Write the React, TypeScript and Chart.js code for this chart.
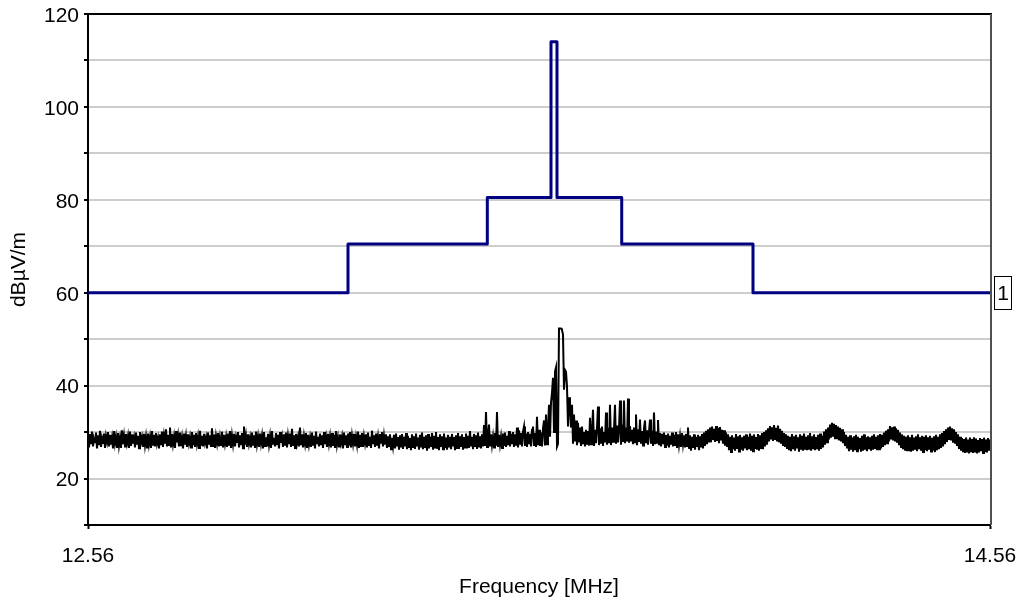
import React, { useEffect, useRef } from "react";
import { Chart, registerables } from "chart.js";

Chart.register(...registerables);

// ---- axes ----
const xMin = 12.56;
const xMax = 14.56;
const xTickValues = [12.56, 14.56];
const yMin = 10;
const yMax = 120;
const yStep = 10;
const yLabelValues = [20, 40, 60, 80, 100, 120];
const xTitle = "Frequency [MHz]";
const yTitle = "dBµV/m";

// ---- limit line (stepped) ----
const limitFreqs = [12.56, 13.1365, 13.4454, 13.5866, 13.5999, 13.7434, 14.0345, 14.56];
const limitLevels = [60, 70.5, 80.5, 114, 80.5, 70.5, 60, 60];
const limitLabel = "1";

// ---- measured trace (uniform sweep from xMin to xMax) ----
const noiseLevels = [
  28.9, 26.7, 29.6, 27.4, 30.1, 26.9, 28.7, 27.8, 29.9, 26.5, 29.3, 27.2, 30.3, 26.8, 28.6, 27.5, 29.7, 26.6, 29.1, 27.9,
  30.0, 26.9, 29.4, 27.3, 28.8, 26.5, 30.2, 27.6, 29.0, 26.8, 29.8, 27.1, 28.7, 26.6, 30.4, 27.4, 29.2, 26.9, 29.6, 27.7,
  29.1, 26.6, 30.1, 27.0, 29.5, 27.5, 28.8, 26.7, 29.9, 27.3, 29.2, 26.5, 30.0, 27.8, 28.9, 26.8, 29.6, 27.2, 29.0, 26.7,
  29.7, 27.4, 28.9, 26.6, 30.2, 27.1, 29.4, 26.9, 29.8, 27.6, 28.7, 26.5, 29.5, 27.2, 30.1, 26.8, 29.2, 27.5, 30.6, 26.9,
  29.4, 27.2, 31.0, 26.7, 29.6, 27.4, 29.0, 26.6, 30.2, 27.8, 29.3, 26.9, 29.9, 27.0, 28.8, 26.5, 29.7, 27.3, 29.1, 26.8,
  29.5, 27.6, 28.9, 26.7, 30.0, 27.2, 29.4, 26.8, 29.8, 27.5, 29.0, 26.6, 30.3, 27.1, 29.2, 26.9, 29.6, 27.7, 28.8, 26.5,
  29.9, 27.3, 29.3, 26.8, 30.8, 27.0, 29.5, 26.6, 29.1, 27.6, 29.8, 26.9, 28.9, 27.2, 30.1, 26.7, 29.4, 27.5, 29.0, 26.8,
  29.7, 27.1, 30.2, 26.6, 29.2, 27.4, 29.6, 26.9, 28.9, 27.7, 30.0, 26.7, 29.3, 27.2, 29.8, 26.5, 31.2, 27.3, 29.1, 26.8,
  29.5, 27.5, 28.8, 26.7, 29.9, 27.1, 29.3, 26.6, 30.1, 27.4, 29.0, 26.8, 29.7, 27.6, 29.2, 26.5, 30.0, 27.0, 28.9, 26.9,
  29.6, 27.3, 29.1, 26.6, 30.2, 27.5, 28.8, 26.9, 29.8, 27.2, 29.4, 26.5, 30.0, 27.7, 29.0, 26.8, 29.5, 27.1, 29.9, 26.7,
  29.2, 27.4, 29.7, 26.8, 30.7, 27.0, 29.3, 26.6, 29.6, 27.6, 28.9, 26.9, 31.0, 27.2, 29.5, 26.7, 29.1, 27.5, 29.8, 26.6,
  29.4, 27.3, 28.8, 26.8, 29.9, 27.1, 29.2, 26.5, 30.1, 27.6, 29.0, 26.9, 29.7, 27.2, 29.3, 26.6, 30.0, 27.4, 28.9, 26.8,
  29.6, 27.5, 29.1, 26.7, 29.8, 27.0, 29.4, 26.6, 30.2, 27.3, 28.8, 26.9, 29.5, 27.7, 29.0, 26.5, 29.9, 27.2, 29.3, 26.8,
  29.7, 27.1, 30.0, 26.7, 29.2, 27.5, 29.6, 26.9, 28.9, 27.3, 30.1, 26.6, 29.4, 27.0, 29.8, 26.8, 29.1, 27.6, 29.5, 26.7,
  29.9, 27.2, 29.0, 26.6, 30.3, 27.4, 29.3, 26.8, 29.7, 27.1, 28.9, 26.5, 29.6, 27.5, 30.0, 26.9, 29.2, 27.3, 29.5, 26.6,
  29.1, 26.8, 29.5, 26.3, 28.8, 27.0, 29.4, 26.5, 29.7, 26.9, 28.9, 26.2, 29.3, 26.7, 29.6, 26.4, 29.0, 26.9, 29.8, 26.3,
  29.2, 26.6, 28.7, 26.1, 29.5, 26.8, 29.1, 26.4, 29.7, 26.9, 28.8, 26.2, 29.4, 26.7, 29.9, 26.3, 29.0, 26.6, 29.3, 26.0,
  29.6, 26.5, 29.0, 26.8, 29.8, 26.2, 29.2, 26.7, 30.0, 26.4, 28.9, 26.1, 29.5, 26.8, 29.1, 26.3, 29.7, 26.6, 28.8, 26.2,
  29.4, 26.7, 29.0, 26.3, 29.6, 26.9, 28.9, 26.1, 29.3, 26.6, 29.8, 26.4, 29.1, 26.8, 29.5, 26.2, 28.9, 26.7, 29.7, 26.5,
  29.2, 26.6, 30.2, 26.9, 29.0, 26.3, 29.6, 26.8, 29.3, 26.4, 29.9, 26.7, 29.1, 26.5, 29.5, 26.9, 31.5, 27.0, 34.3, 26.8,
  29.3, 31.6, 26.9, 29.5, 27.2, 29.0, 26.7, 29.8, 27.1, 34.3, 26.8, 29.4, 27.3, 29.0, 26.6, 29.7, 27.0, 29.9, 26.8, 29.2,
  27.2, 30.2, 26.9, 29.6, 27.4, 30.0, 26.8, 29.5, 27.1, 31.0, 26.7, 30.4, 27.3, 29.8, 26.9, 30.1, 31.2, 27.0, 29.7, 26.8,
  30.0, 27.4, 29.6, 26.9, 30.5, 31.2, 27.0, 29.8, 26.8, 33.3, 27.2, 30.5, 27.0, 29.9, 26.9, 30.8, 32.5, 27.1, 33.8, 27.4,
  30.5, 35.9, 29.0, 36.3, 38.5, 41.7, 30.0, 43.0, 43.9, 26.9, 27.5, 52.3, 52.3, 52.3, 52.0, 51.0, 39.1, 43.4, 43.0, 39.8,
  31.2, 37.5, 35.5, 31.0, 35.9, 27.5, 33.8, 28.0, 32.5, 27.2, 32.0, 27.8, 31.0, 27.0, 31.2, 27.4, 30.0, 26.9, 30.5, 27.3,
  30.2, 27.1, 33.1, 27.4, 30.0, 34.8, 27.0, 30.5, 27.6, 31.0, 35.5, 27.2, 30.8, 27.5, 31.2, 27.0, 30.0, 27.8, 34.2, 27.3,
  30.9, 27.6, 35.9, 27.2, 31.0, 27.9, 30.6, 35.9, 27.5, 31.4, 27.8, 30.8, 36.8, 27.3, 31.6, 27.9, 36.8, 27.6, 31.0, 28.0,
  37.2, 27.7, 31.3, 28.0, 30.5, 27.4, 31.0, 27.8, 33.8, 27.2, 30.6, 27.9, 32.7, 27.5, 30.2, 27.1, 30.8, 32.5, 27.6, 30.4,
  27.3, 30.0, 32.7, 27.5, 30.3, 27.0, 34.2, 27.4, 30.1, 27.7, 32.6, 27.2, 29.8, 26.9, 29.6, 27.4, 29.9, 26.8, 29.4, 27.1,
  29.7, 26.7, 29.2, 27.3, 29.9, 26.9, 29.4, 27.0, 30.0, 26.6, 29.5, 27.2, 29.1, 26.8, 29.8, 27.4, 29.3, 26.7, 29.6, 27.0,
  31.0, 26.4, 29.3, 26.0, 29.0, 26.6, 29.5, 26.2, 28.9, 26.8, 29.4, 26.1, 29.1, 26.7, 29.6, 26.5, 29.9, 27.0, 30.3, 27.4,
  30.6, 28.0, 31.0, 27.8, 31.2, 28.3, 30.7, 27.9, 31.3, 28.1, 30.9, 27.6, 31.1, 28.2, 30.5, 27.5, 30.4, 27.1, 29.9, 26.8,
  29.5, 26.1, 29.0, 25.7, 29.3, 26.3, 28.8, 26.0, 29.6, 26.4, 29.1, 25.8, 29.4, 26.2, 28.9, 26.0, 29.2, 26.5, 29.5, 26.1,
  29.0, 26.3, 29.7, 26.0, 29.2, 25.9, 29.5, 26.4, 28.9, 26.2, 29.6, 26.0, 29.3, 26.6, 29.8, 26.3, 30.0, 26.9, 30.4, 27.3,
  30.8, 28.0, 31.3, 28.4, 31.0, 28.1, 31.5, 28.3, 30.9, 28.0, 31.4, 27.8, 30.7, 27.5, 30.3, 27.2, 29.8, 26.8, 29.5, 26.4,
  29.2, 26.1, 29.0, 25.9, 29.6, 26.3, 29.1, 26.0, 29.4, 26.5, 28.9, 25.8, 29.5, 26.2, 29.2, 26.0, 29.7, 26.4, 29.0, 26.1,
  29.3, 26.2, 29.8, 26.0, 29.1, 26.5, 29.5, 26.1, 28.9, 26.3, 29.4, 26.0, 29.7, 26.4, 29.2, 26.7, 30.1, 27.3, 30.6, 27.8,
  31.0, 28.4, 31.6, 28.8, 32.0, 29.0, 31.8, 28.7, 31.5, 28.5, 31.2, 28.2, 30.9, 28.0, 30.6, 27.6, 30.0, 27.0, 29.4, 26.5,
  29.0, 25.9, 29.3, 26.2, 28.8, 25.8, 29.1, 26.1, 29.4, 25.9, 29.0, 26.3, 28.7, 25.8, 29.2, 26.0, 29.5, 26.2, 28.9, 25.9,
  29.1, 26.3, 28.9, 26.0, 29.2, 26.2, 29.5, 26.4, 29.0, 26.1, 29.3, 26.3, 29.6, 26.5, 29.4, 26.8, 29.9, 27.2, 30.3, 27.6,
  30.6, 28.0, 31.3, 28.4, 31.0, 28.2, 31.2, 28.0, 30.8, 27.7, 30.5, 27.2, 29.9, 26.8, 29.5, 26.3, 29.2, 26.0, 29.0, 25.9,
  29.3, 26.1, 28.9, 25.8, 29.4, 26.0, 28.8, 26.2, 29.1, 25.9, 29.5, 26.3, 28.9, 26.0, 29.2, 25.7, 29.0, 26.1, 29.3, 25.9,
  28.9, 26.2, 29.2, 25.8, 28.8, 26.0, 29.1, 25.7, 29.4, 26.1, 29.0, 26.3, 29.5, 26.6, 29.8, 26.9, 30.2, 27.4, 30.6, 27.9,
  31.0, 28.3, 31.2, 28.2, 30.8, 27.9, 30.6, 27.5, 30.0, 27.0, 29.5, 26.4, 29.0, 26.0, 28.7, 25.7, 28.5, 25.5, 28.8, 25.6,
  28.4, 25.4, 28.8, 25.7, 28.5, 25.5, 28.9, 25.8, 28.6, 25.4, 28.3, 25.6, 28.7, 25.9, 28.5, 25.5, 28.8, 25.7, 28.4, 25.6,
  28.7, 26.0, 28.4,
];

const FONT_FAMILY = '"Liberation Sans", Arial, Helvetica, sans-serif';
const FONT_SIZE = 21;

const framePlugin = {
  id: "frameAndLabel",
  afterDatasetsDraw(chart: any) {
    const { ctx, chartArea } = chart;
    const { left, right, top, bottom } = chartArea;
    ctx.save();
    ctx.lineWidth = 2;
    ctx.strokeStyle = "#000";
    ctx.beginPath();
    ctx.moveTo(left - 1, top);
    ctx.lineTo(right + 2, top);
    ctx.stroke();
    ctx.strokeStyle = "#505050";
    ctx.beginPath();
    ctx.moveTo(right + 1, top);
    ctx.lineTo(right + 1, bottom);
    ctx.stroke();
    ctx.restore();
  },
  afterDraw(chart: any) {
    const { ctx, chartArea } = chart;
    const yScale = chart.scales.y;
    const yc = Math.round(yScale.getPixelForValue(limitLevels[limitLevels.length - 1]));
    const x = Math.round(chartArea.right) + 4;
    const w = 18;
    const h = 34;
    const y0 = yc - h / 2;
    ctx.save();
    ctx.fillStyle = "#fff";
    ctx.fillRect(x, y0, w, h);
    ctx.strokeStyle = "#000";
    ctx.lineWidth = 1;
    ctx.strokeRect(x + 0.5, y0 + 0.5, w - 1, h - 1);
    ctx.fillStyle = "#000";
    ctx.font = `${FONT_SIZE}px ${FONT_FAMILY}`;
    ctx.textAlign = "center";
    ctx.textBaseline = "middle";
    ctx.fillText(limitLabel, x + w / 2, yc + 1);
    ctx.restore();
  },
};

export default function App() {
  const canvasRef = useRef<HTMLCanvasElement | null>(null);

  useEffect(() => {
    const canvas = canvasRef.current;
    if (!canvas) return;
    const n = noiseLevels.length;
    const stepF = (xMax - xMin) / (n - 1);
    const noiseData = noiseLevels.map((v, i) => ({ x: xMin + i * stepF, y: v }));
    const limitData = limitFreqs.map((f, i) => ({ x: f, y: limitLevels[i] }));
    const font = { family: FONT_FAMILY, size: FONT_SIZE };

    const chart = new Chart(canvas, {
      type: "line",
      data: {
        datasets: [
          {
            label: "trace",
            data: noiseData,
            borderColor: "#000",
            borderWidth: 2,
            pointRadius: 0,
            tension: 0,
          },
          {
            label: "limit",
            data: limitData,
            borderColor: "#000080",
            borderWidth: 3,
            pointRadius: 0,
            stepped: "before",
            borderJoinStyle: "round",
            borderCapStyle: "round",
          },
        ],
      },
      options: {
        animation: false,
        responsive: false,
        events: [],
        layout: { padding: { top: 14, right: 32, left: 0, bottom: 0 } },
        plugins: {
          legend: { display: false },
          tooltip: { enabled: false },
        },
        scales: {
          x: {
            type: "linear",
            min: xMin,
            max: xMax,
            afterBuildTicks(scale: any) {
              scale.ticks = xTickValues.map((v) => ({ value: v }));
            },
            afterFit(scale: any) {
              scale.height = 81;
              scale.paddingLeft = 0;
              scale.paddingRight = 0;
            },
            ticks: {
              color: "#000",
              font,
              padding: 15,
              maxRotation: 0,
              autoSkip: false,
              callback: (v: any) => Number(v).toFixed(2),
            },
            grid: {
              display: true,
              drawOnChartArea: false,
              tickLength: 4,
              tickColor: "#000",
              tickWidth: 2,
            },
            border: { color: "#000", width: 2 },
            title: {
              display: true,
              text: xTitle,
              color: "#000",
              font,
              padding: { top: 0, bottom: 6 },
            },
          },
          y: {
            type: "linear",
            min: yMin,
            max: yMax,
            afterFit(scale: any) {
              scale.width = 88;
              scale.paddingTop = 0;
              scale.paddingBottom = 0;
            },
            ticks: {
              stepSize: yStep,
              autoSkip: false,
              color: "#000",
              font,
              padding: 5,
              labelOffset: 2,
              callback: (v: any) => (yLabelValues.includes(Number(v)) ? String(v) : ""),
            },
            grid: {
              color: (c: any) =>
                c.tick && (c.tick.value === yMin || c.tick.value === yMax)
                  ? "rgba(0,0,0,0)"
                  : "rgb(205,205,205)",
              lineWidth: 2,
              tickColor: "#000",
              tickWidth: 2,
              tickLength: 4,
            },
            border: { color: "#000", width: 2 },
            title: {
              display: true,
              text: yTitle,
              color: "#000",
              font,
              padding: { top: 7, bottom: 0 },
            },
          },
        },
      },
      plugins: [framePlugin],
    } as any);

    return () => chart.destroy();
  }, []);

  return (
    <div style={{ position: "fixed", left: 0, top: 0, width: 1022, height: 606, background: "#fff" }}>
      <canvas ref={canvasRef} width={1022} height={606} style={{ display: "block" }} />
    </div>
  );
}
